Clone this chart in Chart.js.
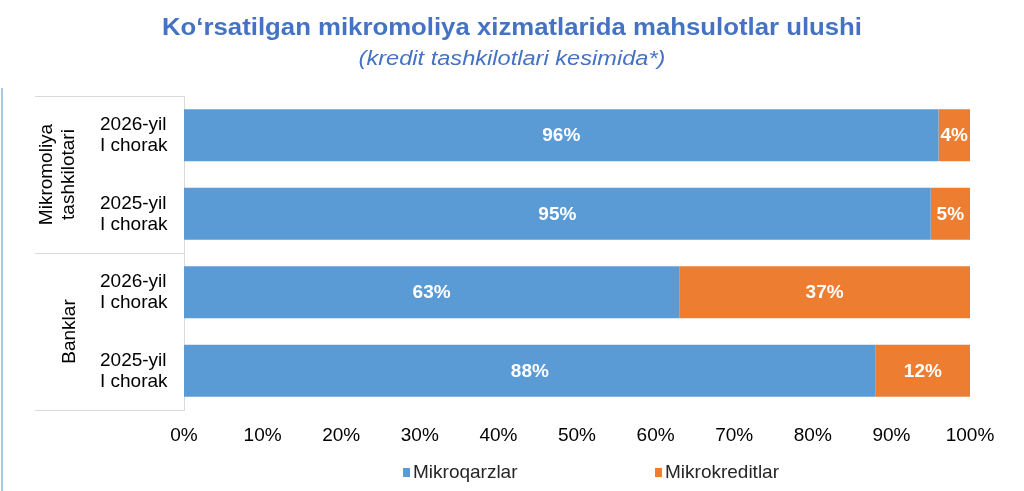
<!DOCTYPE html>
<html>
<head>
<meta charset="utf-8">
<script src="https://cdn.jsdelivr.net/npm/chart.js@4.4.1/dist/chart.umd.min.js"></script>
<style>
  html, body { margin: 0; padding: 0; background: #fff; }
  body { width: 1024px; height: 491px; position: relative; overflow: hidden; font-family: "Liberation Sans", Arial, sans-serif; }
  #wrap { position: absolute; left: 0; top: 0; width: 1024px; height: 491px; }
  .title { position: absolute; left: 0; width: 1024px; text-align: center; color: #4472C4; white-space: nowrap; }
  #t1 { top: 14px; font-size: 23px; font-weight: bold; transform: scaleX(1.12); }
  #t2 { top: 47px; font-size: 20px; font-style: italic; transform: scaleX(1.18); }
  #edge { position: absolute; left: 1px; top: 88px; width: 2px; height: 403px; background: #a9c7e8; }
  #legend { position: absolute; top: 461px; left: 0; width: 1024px; font-size: 19px; color: #262626; }
  .item { position: absolute; top: 0; white-space: nowrap; }
  .box { display: inline-block; width: 7px; height: 9px; margin-right: 3px; vertical-align: 1px; }
</style>
</head>
<body>
<div id="wrap"><canvas id="chart" width="1024" height="491"></canvas></div>
<div class="title" id="t1">Ko‘rsatilgan mikromoliya xizmatlarida mahsulotlar ulushi</div>
<div class="title" id="t2">(kredit tashkilotlari kesimida*)</div>
<div id="edge"></div>
<div id="legend"></div>
<script>
// Categories (top to bottom)
const categories = [
  ["2026-yil", "I chorak"],
  ["2025-yil", "I chorak"],
  ["2026-yil", "I chorak"],
  ["2025-yil", "I chorak"]
];
const groupNames = [["Mikromoliya", "tashkilotari"], ["Banklar"]];
const groupOf = [0, 0, 1, 1];

const seriesNames = ["Mikroqarzlar", "Mikrokreditlar"];
const mikroqarzlar = [96, 95, 63, 88];
const mikrokreditlar = [4, 5, 37, 12];
const xTicks = [0, 10, 20, 30, 40, 50, 60, 70, 80, 90, 100];

const colors = ["#5B9BD5", "#ED7D31"];
const FONT = '"Liberation Sans", Arial, sans-serif';

// legend (html)
const legendPos = [403, 655];
seriesNames.forEach((name, i) => {
  const el = document.createElement("div");
  el.className = "item";
  el.style.left = legendPos[i] + "px";
  el.innerHTML = `<span class="box" style="background:${colors[i]}"></span>${name}`;
  document.getElementById("legend").appendChild(el);
});

// white value labels in the middle of each segment
const valueLabels = {
  id: "valueLabels",
  afterDatasetsDraw(chart) {
    const ctx = chart.ctx;
    ctx.save();
    ctx.fillStyle = "#fff";
    ctx.font = "bold 19px " + FONT;
    ctx.textAlign = "center";
    ctx.textBaseline = "middle";
    chart.data.datasets.forEach((ds, di) => {
      chart.getDatasetMeta(di).data.forEach((bar, i) => {
        ctx.fillText(ds.data[i] + "%", (bar.x + bar.base) / 2, bar.y + 1);
      });
    });
    ctx.restore();
  }
};

// category labels, group labels and separator lines on the left
const groupAxis = {
  id: "groupAxis",
  afterDraw(chart) {
    const ctx = chart.ctx;
    const y = chart.scales.y;
    const left = chart.chartArea.left;
    const step = y.getPixelForValue(1) - y.getPixelForValue(0);
    ctx.save();
    ctx.fillStyle = "#000";
    ctx.font = "19px " + FONT;
    ctx.textAlign = "left";
    ctx.textBaseline = "middle";
    categories.forEach((lines, i) => {
      const cy = y.getPixelForValue(i);
      ctx.fillText(lines[0], 100, cy - 10);
      ctx.fillText(lines[1], 100, cy + 11);
    });

    // separators
    ctx.strokeStyle = "#d9d9d9";
    ctx.lineWidth = 1;
    const sepY = [y.getPixelForValue(0) - step / 2];
    for (let i = 1; i < groupOf.length; i++) {
      if (groupOf[i] !== groupOf[i - 1]) sepY.push(y.getPixelForValue(i) - step / 2);
    }
    sepY.push(y.getPixelForValue(groupOf.length - 1) + step / 2);
    sepY.forEach(py => {
      ctx.beginPath();
      ctx.moveTo(35, Math.round(py) + 0.5);
      ctx.lineTo(left, Math.round(py) + 0.5);
      ctx.stroke();
    });

    // rotated group names
    groupNames.forEach((lines, g) => {
      const idx = groupOf.map((v, i) => v === g ? i : -1).filter(i => i >= 0);
      const cy = (y.getPixelForValue(idx[0]) + y.getPixelForValue(idx[idx.length - 1])) / 2;
      const cx = lines.length > 1 ? 58 : 70;
      ctx.save();
      ctx.translate(cx, cy);
      ctx.rotate(-Math.PI / 2);
      ctx.textAlign = "center";
      lines.forEach((t, k) => {
        ctx.fillText(t, 0, (k - (lines.length - 1) / 2) * 22);
      });
      ctx.restore();
    });
    ctx.restore();
  }
};

new Chart(document.getElementById("chart"), {
  type: "bar",
  data: {
    labels: categories,
    datasets: [
      { label: seriesNames[0], data: mikroqarzlar, backgroundColor: colors[0] },
      { label: seriesNames[1], data: mikrokreditlar, backgroundColor: colors[1] }
    ]
  },
  options: {
    indexAxis: "y",
    responsive: false,
    animation: false,
    barPercentage: 0.66,
    categoryPercentage: 1,
    layout: { padding: { top: 96, right: 54, bottom: 41, left: 0 } },
    plugins: {
      legend: { display: false },
      title: { display: false },
      tooltip: { enabled: false }
    },
    scales: {
      x: {
        stacked: true,
        min: 0,
        max: 100,
        afterBuildTicks: s => { s.ticks = xTicks.map(v => ({ value: v })); },
        afterFit: s => { s.height = 40; },
        grid: { display: false, drawTicks: false },
        border: { display: false },
        ticks: {
          padding: 14,
          color: "#000",
          font: { size: 19, family: FONT },
          callback: v => v + "%"
        }
      },
      y: {
        stacked: true,
        afterFit: s => { s.width = 184; },
        grid: { display: false, drawTicks: false },
        border: { display: true, color: "#d9d9d9" },
        ticks: { display: false }
      }
    }
  },
  plugins: [valueLabels, groupAxis]
});
</script>
</body>
</html>
